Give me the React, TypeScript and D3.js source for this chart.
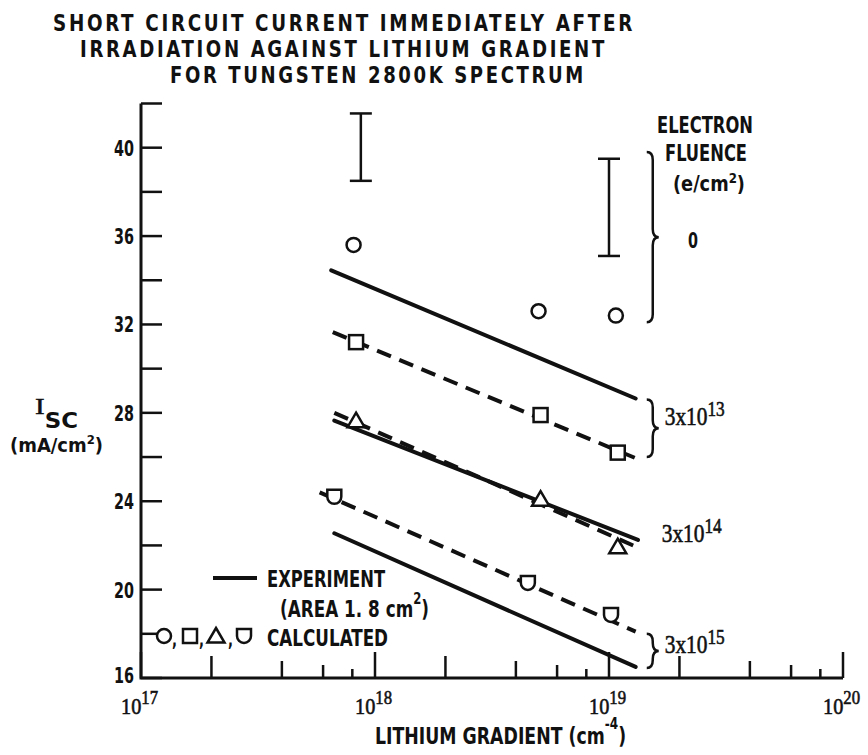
import React, { useLayoutEffect, useRef, useState } from 'react';
import * as d3 from 'd3';

// values
const xTickDecades = [17, 18, 19, 20];
const xMinorMult = [2, 4, 6, 8];
const yTicks = d3.range(16, 43, 2);
const yLabels = [16, 20, 24, 28, 32, 36, 40];

// calculated points [lithium gradient, Isc]
const circlePts: [number, number][] = [[8.1e17, 35.6], [5.0e18, 32.6], [1.07e19, 32.4]];
const squarePts: [number, number][] = [[8.3e17, 31.2], [5.1e18, 27.9], [1.09e19, 26.2]];
const trianglePts: [number, number][] = [[8.3e17, 27.6], [5.1e18, 24.05], [1.09e19, 21.9]];
const shieldPts: [number, number][] = [[6.7e17, 24.2], [4.5e18, 20.3], [1.02e19, 18.85]];

// experiment (solid) fits
const exp13: [number, number][] = [[6.5e17, 34.45], [1.3e19, 28.65]];
const exp14: [number, number][] = [[6.7e17, 27.65], [1.33e19, 22.25]];
const exp15: [number, number][] = [[6.7e17, 22.55], [1.3e19, 16.5]];

// calculated (dashed) fits
const calc13: [number, number][] = [[6.6e17, 31.65], [1.3e19, 25.95]];
const calc14: [number, number][] = [[6.7e17, 28.0], [1.33e19, 21.9]];
const calc15: [number, number][] = [[5.8e17, 24.4], [1.3e19, 18.1]];

// experimental range at zero fluence
const errorBars = [
  { g: 8.7e17, lo: 38.5, hi: 41.55 },
  { g: 1.0e19, lo: 35.1, hi: 39.5 },
];

// braces grouping the fluence levels
const braces = [
  { g: 1.45e19, lo: 32.1, hi: 39.8 },
  { g: 1.45e19, lo: 26.0, hi: 28.6 },
  { g: 1.45e19, lo: 16.45, hi: 18.0 },
];

const fluenceLabels = [
  { g: 1.73e19, v: 27.9, exp: '13' },
  { g: 1.68e19, v: 22.6, exp: '14' },
  { g: 1.73e19, v: 17.6, exp: '15' },
];

const SANS = "'Liberation Sans Narrow', 'DejaVu Sans Condensed', 'Liberation Sans', sans-serif";
const SERIF = "'Liberation Serif', 'DejaVu Serif', serif";

const x = d3.scaleLog().domain([1e17, 1e20]).range([141, 843]);
const y = d3.scaleLinear().domain([16, 42]).range([678, 103.5]);
const line = d3.line<[number, number]>().x(d => x(d[0])).y(d => y(d[1]));

const minorLen: Record<number, number> = { 2: 22, 4: 17, 6: 13, 8: 9 };

function shield(cx: number, cy: number, w = 14) {
  const h = w / 2;
  return `M${cx - h},${cy - h}H${cx + h}V${cy}A${h},${h} 0 0 1 ${cx - h},${cy}Z`;
}
function tri(cx: number, cy: number) {
  return `M${cx},${cy - 9}L${cx + 8.5},${cy + 5.5}L${cx - 8.5},${cy + 5.5}Z`;
}
function brace(bx: number, y0: number, y1: number) {
  const w = 12, m = (y0 + y1) / 2, r = Math.min(8, (y1 - y0) / 4), c = bx + w / 2;
  return `M${bx},${y0}Q${c},${y0} ${c},${y0 + r}L${c},${m - r}Q${c},${m} ${bx + w},${m}` +
    `Q${c},${m} ${c},${m + r}L${c},${y1 - r}Q${c},${y1} ${bx},${y1}`;
}

// text squeezed horizontally to a measured width (the original lettering is condensed)
function Fit({ x, y, w, end, serif, children, ...rest }: any) {
  const ref = useRef<SVGTextElement>(null);
  const [s, setS] = useState(1);
  useLayoutEffect(() => {
    const measure = () => {
      const el = ref.current;
      if (!el) return;
      const nat = el.getComputedTextLength();
      if (nat > 0) setS(w / nat);
    };
    measure();
    (document as any).fonts?.ready.then(measure);
  }, [w]);
  const tx = end ? x - w : x;
  const style = serif
    ? { fontFamily: SERIF, stroke: '#111', strokeWidth: 0.6 }
    : { fontFamily: SANS, fontWeight: 'bold' };
  return (
    <text ref={ref} transform={`translate(${tx},${y}) scale(${s},1)`} fill="#111" {...style} {...rest}>
      {children}
    </text>
  );
}

export default function App() {
  return (
    <svg width={868} height={755} style={{ position: 'absolute', left: 0, top: 0, background: '#fff' }}>
      {/* title */}
      <Fit x={53} y={31} w={582} fontSize={23} letterSpacing={3}>SHORT CIRCUIT CURRENT IMMEDIATELY AFTER</Fit>
      <Fit x={80} y={57} w={527} fontSize={23} letterSpacing={3}>IRRADIATION AGAINST LITHIUM GRADIENT</Fit>
      <Fit x={170} y={83} w={416} fontSize={23} letterSpacing={3}>FOR TUNGSTEN 2800K SPECTRUM</Fit>

      {/* axes */}
      <g stroke="#111" strokeWidth={3} fill="none">
        <path d={`M${x(1e17)},${y(42)}V${y(16)}H${x(1e20)}`} />
        {yTicks.map(t => (
          <line key={t} x1={x(1e17)} x2={x(1e17) + 21} y1={y(t)} y2={y(t)} strokeWidth={2.5} />
        ))}
        {xTickDecades.map(d => (
          <line key={d} x1={x(10 ** d)} x2={x(10 ** d)} y1={y(16)} y2={y(16) - 26} strokeWidth={2.5} />
        ))}
        {xTickDecades.slice(0, 3).flatMap(d =>
          xMinorMult.map(m => (
            <line key={`${d}-${m}`} x1={x(m * 10 ** d)} x2={x(m * 10 ** d)} y1={y(16)} y2={y(16) - minorLen[m]} strokeWidth={2.5} />
          ))
        )}
      </g>

      {/* y tick labels */}
      {yLabels.map(t => (
        <Fit key={t} x={134} end y={y(t) + 8 - (t === 16 ? 3 : 0)} w={20} fontSize={22}>{t}</Fit>
      ))}

      {/* x tick labels */}
      {xTickDecades.map(d => (
        <Fit key={d} serif x={x(10 ** d) - 20} y={714} w={37} fontSize={23}>
          10<tspan fontSize={19} dy={-10}>{d}</tspan>
        </Fit>
      ))}

      {/* axis titles */}
      <Fit x={375} y={744} w={251} fontSize={23}>
        LITHIUM GRADIENT (cm<tspan fontSize={16} dy={-15}>-4</tspan><tspan dy={15}>)</tspan>
      </Fit>

      <Fit x={35} y={414} w={43} fontSize={21}>
        <tspan fontFamily={SERIF} fontWeight="normal" fontSize={24} stroke="#111" strokeWidth={0.5}>I</tspan>
        <tspan dy={14}>SC</tspan>
      </Fit>
      <Fit x={10} y={452} w={93} fontSize={20}>
        (mA/cm<tspan fontSize={13} dy={-8}>2</tspan><tspan dy={8}>)</tspan>
      </Fit>

      {/* error bars */}
      <g stroke="#111" strokeWidth={2.5}>
        {errorBars.map((e, i) => (
          <g key={i}>
            <line x1={x(e.g)} x2={x(e.g)} y1={y(e.hi)} y2={y(e.lo)} />
            <line x1={x(e.g) - 11} x2={x(e.g) + 11} y1={y(e.hi)} y2={y(e.hi)} />
            <line x1={x(e.g) - 11} x2={x(e.g) + 11} y1={y(e.lo)} y2={y(e.lo)} />
          </g>
        ))}
      </g>

      {/* fitted lines */}
      <g stroke="#111" strokeWidth={4} fill="none" strokeLinecap="round">
        {[exp13, exp14, exp15].map((l, i) => <path key={i} d={line(l) || ''} />)}
        {[calc13, calc14, calc15].map((l, i) => <path key={i} d={line(l) || ''} strokeDasharray="15,9" strokeLinecap="butt" />)}
      </g>

      {/* calculated points */}
      <g stroke="#111" strokeWidth={2.5} fill="#fff">
        {circlePts.map((p, i) => <circle key={i} cx={x(p[0])} cy={y(p[1])} r={7} />)}
        {squarePts.map((p, i) => <rect key={i} x={x(p[0]) - 7} y={y(p[1]) - 7} width={14} height={14} />)}
        {trianglePts.map((p, i) => <path key={i} d={tri(x(p[0]), y(p[1]))} />)}
        {shieldPts.map((p, i) => <path key={i} d={shield(x(p[0]), y(p[1]))} />)}
      </g>

      {/* braces and fluence labels */}
      <g stroke="#111" strokeWidth={2.5} fill="none">
        {braces.map((b, i) => <path key={i} d={brace(x(b.g), y(b.hi), y(b.lo))} />)}
      </g>
      <Fit x={657} y={133} w={96} fontSize={23}>ELECTRON</Fit>
      <Fit x={665} y={161} w={82} fontSize={23}>FLUENCE</Fit>
      <Fit x={673} y={191} w={72} fontSize={21}>
        (e/cm<tspan fontSize={14} dy={-8}>2</tspan><tspan dy={8}>)</tspan>
      </Fit>
      <Fit x={688} y={248} w={10} fontSize={22}>0</Fit>
      {fluenceLabels.map(f => (
        <Fit key={f.exp} serif x={x(f.g)} y={y(f.v) + 10} w={60} fontSize={26}>
          3x10<tspan fontSize={21} dy={-9}>{f.exp}</tspan>
        </Fit>
      ))}

      {/* legend */}
      <line x1={213} x2={257} y1={578} y2={578} stroke="#111" strokeWidth={4} />
      <Fit x={267} y={587} w={118} fontSize={23}>EXPERIMENT</Fit>
      <Fit x={280} y={617} w={149} fontSize={23}>
        (AREA 1. 8 cm<tspan fontSize={16} dy={-13}>2</tspan><tspan dy={13}>)</tspan>
      </Fit>
      <g stroke="#111" strokeWidth={2.5} fill="#fff">
        <circle cx={164} cy={636} r={7} />
        <rect x={183} y={629} width={14} height={14} />
        <path d={tri(216, 637)} />
        <path d={shield(244, 636)} />
      </g>
      <Fit x={172} y={646} w={5} fontSize={20}>,</Fit>
      <Fit x={199} y={646} w={5} fontSize={20}>,</Fit>
      <Fit x={228} y={646} w={5} fontSize={20}>,</Fit>
      <Fit x={267} y={646} w={121} fontSize={23}>CALCULATED</Fit>
    </svg>
  );
}
